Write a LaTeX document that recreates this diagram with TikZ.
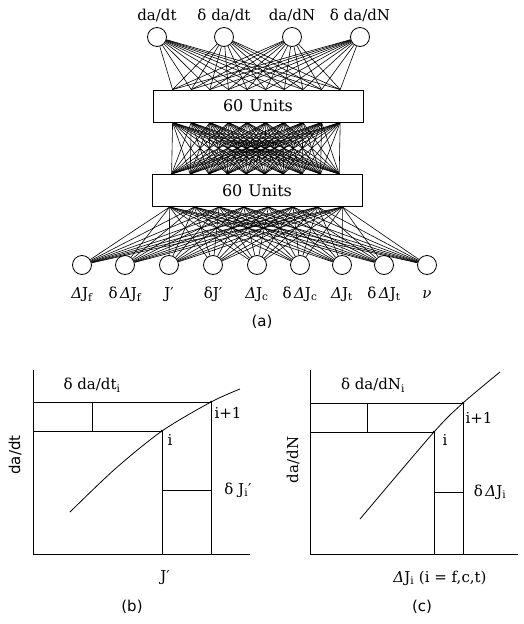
\documentclass[tikz,border=0pt]{standalone}
\usepackage{fontspec}
\setmainfont{DejaVu Serif}
\setsansfont{DejaVu Sans}
\usepackage{tikz}
\usetikzlibrary{calc}
\tikzset{
  nnunit/.style={circle, draw=black, fill=white, line width=0.8pt,
    minimum size=19pt, inner sep=0pt},
  nnlayer/.style={draw=black, fill=white, line width=0.9pt, minimum width=210pt,
    minimum height=32pt, inner sep=0pt, font=\fontsize{16}{18}\selectfont},
  nnlink/.style={line width=0.6pt, draw=black},
  nnlabel/.style={font=\fontsize{15}{17}\selectfont, anchor=base, inner sep=1pt},
  gaxis/.style={line width=1pt, draw=black},
  gline/.style={line width=0.8pt, draw=black},
  gnote/.style={font=\fontsize{15}{17}\selectfont, inner sep=1pt},
  gcap/.style={font=\sffamily\fontsize{15}{17}\selectfont, inner sep=1pt}
}

\begin{document}
\begin{tikzpicture}[x=1pt, y=-1pt]
  \useasboundingbox (0,0) rectangle (523,624);

  % (a) network
  \node[nnlayer] (h1) at (258,106) {60\hspace{6pt}Units};
  \node[nnlayer] (h2) at (257,190.5) {60\hspace{6pt}Units};
  \foreach \nm/\xp/\txt in {o1/157/{da/dt}, o2/224/{δ da/dt},
      o3/292/{da/dN}, o4/360/{δ da/dN}} {
    \node[nnunit] (\nm) at (\xp,37) {};
    \node[nnlabel] (\nm-l) at (\xp,20) {\txt};
  }
  \foreach \n/\xp/\txt in {1/82/{\textit{Δ}J\textsubscript{f}},
      2/125/{δ\,\textit{Δ}J\textsubscript{f}}, 3/169/{J′}, 4/213/{δJ′},
      5/257/{\textit{Δ}J\textsubscript{c}}, 6/300/{δ\,\textit{Δ}J\textsubscript{c}},
      7/342/{\textit{Δ}J\textsubscript{t}}, 8/384/{δ\,\textit{Δ}J\textsubscript{t}},
      9/427/{\textit{ν}}} {
    \node[nnunit] (i\n) at (\xp,265) {};
    \node[nnlabel] (i\n-l) at (\xp,298) {\txt};
  }
  \node[gcap] (cap-a) at (262,322) {(a)};

  % link ends on the layer boxes
  \foreach \k in {0,...,9} {
    \pgfmathsetmacro\fr{0.095+\k*0.0883}
    \coordinate (h1t\k) at ($(h1.north west)!\fr!(h1.north east)$);
    \coordinate (h1b\k) at ($(h1.south west)!\fr!(h1.south east)$);
    \coordinate (h2t\k) at ($(h2.north west)!\fr!(h2.north east)$);
  }
  \foreach \k in {0,...,7} {
    \pgfmathsetmacro\fr{0.086+\k*0.117}
    \coordinate (h2b\k) at ($(h2.south west)!\fr!(h2.south east)$);
  }

  \foreach \nm in {o1,o2,o3,o4}
    \foreach \k in {0,...,9}
      \draw[nnlink] (\nm) -- (h1t\k);
  \foreach \k in {0,...,9}
    \foreach \m in {0,...,9}
      \draw[nnlink] (h1b\k) -- (h2t\m);
  \foreach \n in {1,...,9}
    \foreach \k in {0,...,7}
      \draw[nnlink] (h2b\k) -- (i\n);

  % (b) da/dt against J'
  \coordinate (bo) at (33,554);
  \coordinate (bi) at (162,431);
  \coordinate (bj) at (211,402);
  \draw[gaxis] (33,370) -- (bo) -- (250,554);
  \draw[gline] (bo |- bj) -- (bj) -- (bj |- bo);
  \draw[gline] (bo |- bi) -- (bi) -- (bi |- bo);
  \draw[gline] (92,402) -- (92,431);
  \draw[gline] (162,490) -- (211,490);
  \draw[gline] plot[smooth] coordinates {(70,512) (115,469) (162,431) (211,402) (240,389)};
  \fill (bi) circle (1.4);
  \fill (bj) circle (1.4);
  \node[gnote] (b-dy) at (92,385) {δ da/dt\textsubscript{i}};
  \node[gnote] (b-i) at (170,440) {i};
  \node[gnote] (b-j) at (228,413) {i+1};
  \node[gnote] (b-dx) at (238,490) {δ J\textsubscript{i}′};
  \node[gcap, rotate=90] (b-y) at (15,455) {da/dt};
  \node[gnote] (b-x) at (165,578) {J′};
  \node[gcap] (cap-b) at (132,607) {(b)};

  % (c) da/dN against delta J
  \coordinate (co) at (310,554);
  \coordinate (ci) at (434,432);
  \coordinate (cj) at (463,403);
  \draw[gaxis] (310,370) -- (co) -- (518,554);
  \draw[gline] (co |- cj) -- (cj) -- (cj |- co);
  \draw[gline] (co |- ci) -- (ci) -- (ci |- co);
  \draw[gline] (367,403) -- (367,432);
  \draw[gline] (434,492) -- (463,492);
  \draw[gline] plot[smooth] coordinates {(360,519) (434,432) (463,403) (500,372)};
  \fill (ci) circle (1.4);
  \fill (cj) circle (1.4);
  \node[gnote] (c-dy) at (373,385) {δ da/dN\textsubscript{i}};
  \node[gnote] (c-i) at (445,440) {i};
  \node[gnote] (c-j) at (479,418) {i+1};
  \node[gnote] (c-dx) at (490,492) {δ\,\textit{Δ}J\textsubscript{i}};
  \node[gnote, rotate=90] (c-y) at (293,460) {da/dN};
  \node[gnote] (c-x) at (440,578) {\textit{Δ}J\textsubscript{i} (i = f,c,t)};
  \node[gcap] (cap-c) at (422,607) {(c)};
\end{tikzpicture}
\end{document}
